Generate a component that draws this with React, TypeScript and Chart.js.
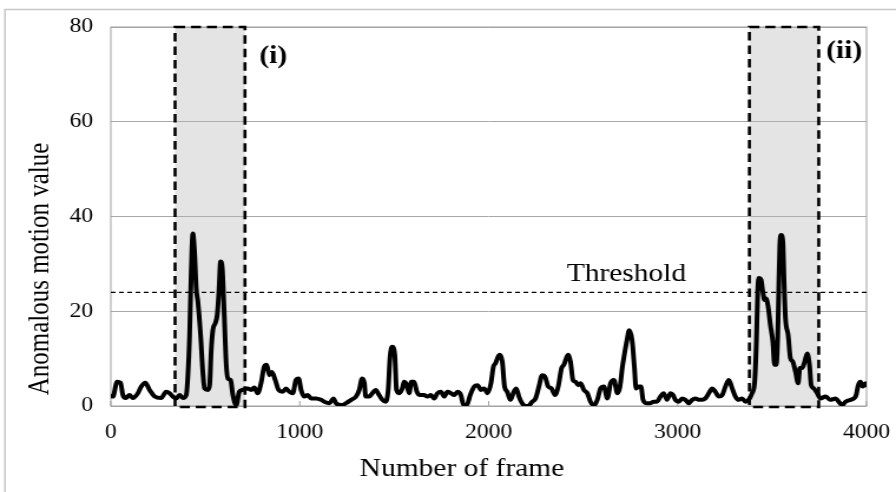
import React, { useEffect, useRef } from "react";
import { Chart, registerables } from "chart.js";

Chart.register(...registerables);

// ---------------- data ----------------
const frames = [0, 11, 33, 51, 64, 79, 99, 117, 143, 161, 182, 205, 232, 266, 293, 311, 328, 346, 364, 381, 399, 408, 417, 425, 434, 443, 452, 461, 475, 487, 496, 514, 523, 531, 540, 553, 563, 572, 581, 590, 599, 611, 620, 634, 646, 664, 680, 698, 724, 742, 759, 777, 795, 812, 825, 839, 853, 870, 888, 910, 927, 945, 963, 980, 994, 1007, 1024, 1042, 1060, 1086, 1113, 1130, 1157, 1178, 1192, 1219, 1245, 1272, 1298, 1315, 1330, 1342, 1349, 1367, 1384, 1402, 1420, 1437, 1455, 1468, 1478, 1490, 1503, 1512, 1526, 1543, 1552, 1567, 1579, 1591, 1605, 1620, 1637, 1658, 1676, 1694, 1711, 1729, 1747, 1764, 1782, 1800, 1817, 1835, 1853, 1867, 1884, 1902, 1923, 1941, 1959, 1976, 1994, 2012, 2025, 2036, 2057, 2072, 2084, 2098, 2115, 2133, 2146, 2160, 2177, 2195, 2213, 2230, 2248, 2266, 2283, 2298, 2315, 2333, 2351, 2368, 2386, 2398, 2411, 2421, 2433, 2446, 2460, 2474, 2486, 2504, 2522, 2539, 2557, 2575, 2592, 2610, 2628, 2645, 2663, 2681, 2695, 2707, 2718, 2732, 2744, 2759, 2771, 2780, 2794, 2806, 2817, 2834, 2856, 2873, 2891, 2909, 2926, 2944, 2962, 2976, 2988, 3006, 3024, 3041, 3059, 3077, 3094, 3112, 3130, 3147, 3165, 3183, 3200, 3218, 3236, 3253, 3271, 3289, 3306, 3323, 3341, 3359, 3376, 3394, 3408, 3417, 3424, 3429, 3442, 3451, 3460, 3468, 3479, 3491, 3504, 3513, 3522, 3530, 3535, 3541, 3548, 3557, 3564, 3571, 3585, 3597, 3609, 3624, 3638, 3647, 3659, 3673, 3686, 3698, 3707, 3721, 3739, 3756, 3783, 3809, 3836, 3853, 3871, 3889, 3915, 3933, 3945, 3956, 3968, 3980, 3995, 4000];

const motionValues = [2.1, 2.0, 5.1, 4.9, 2.3, 1.7, 2.3, 1.7, 2.7, 4.1, 4.9, 3.4, 2.0, 1.7, 3.0, 2.7, 2.0, 1.6, 2.3, 1.7, 2.3, 6.5, 15, 27.6, 36.4, 32.6, 24.8, 22, 15, 7.2, 3.7, 3.4, 4.4, 11.5, 16, 17.5, 19.2, 24.1, 30.5, 29, 20.6, 8.7, 5.8, 5.5, 2.3, 0.2, 3.0, 3.4, 3.7, 3.4, 3.9, 2.7, 4.8, 8.3, 8.7, 6.5, 7.2, 5.5, 3.4, 3.0, 3.7, 3.0, 2.7, 5.5, 5.8, 3.4, 2.0, 2.3, 1.6, 1.6, 1.3, 0.9, 0.6, 1.6, 0.6, 0.2, 0.6, 1.3, 2.0, 3.4, 5.8, 4.8, 2.0, 2.0, 2.7, 3.4, 2.3, 1.3, 0.9, 3.4, 10.4, 12.5, 10.8, 3.4, 2.7, 3.7, 5.1, 4.4, 2.7, 5.1, 5.1, 3.0, 2.3, 2.3, 2.0, 2.3, 1.6, 2.7, 3.0, 2.0, 3.0, 2.7, 2.3, 3.0, 2.3, 0.2, 0.2, 2.3, 4.1, 4.4, 3.4, 3.7, 2.7, 4.8, 8.3, 9.0, 10.8, 9.4, 4.1, 3.0, 1.3, 3.0, 3.7, 2.0, 0.6, 0, 0.1, 0.9, 1.6, 4.1, 6.5, 6.2, 4.1, 3.7, 2.3, 4.1, 8.0, 8.7, 10.1, 10.8, 9.4, 5.5, 5.1, 4.4, 4.8, 3.4, 2.7, 0.9, 0.1, 1.3, 3.7, 4.1, 1.6, 4.8, 5.5, 2.7, 4.1, 8.0, 10.8, 13.9, 16.0, 13.9, 8.3, 3.7, 4.1, 4.1, 1.3, 0.6, 0.6, 0.9, 0.9, 2.0, 2.7, 1.3, 2.7, 2.3, 1.3, 0.9, 1.6, 1.3, 0.6, 1.3, 1.6, 1.3, 1.3, 1.6, 2.7, 3.7, 3.0, 2.0, 2.3, 4.1, 5.5, 3.7, 2.0, 1.3, 1.6, 0.9, 1.3, 2.7, 5.1, 13.6, 24.1, 27.0, 26.6, 24.1, 22.4, 22.7, 21, 17.1, 13.6, 8.7, 8.7, 15, 24.1, 34, 36.1, 34.7, 25.5, 18.5, 15, 10.1, 9.4, 7.2, 4.8, 8.0, 8.0, 9.4, 11.1, 8.7, 4.4, 3.7, 2.7, 1.6, 2.0, 1.3, 1.6, 0.9, 0.2, 0.9, 1.3, 1.6, 2.3, 4.4, 5.1, 4.1, 4.8, 4.4];

const xTicks = [0, 1000, 2000, 3000, 4000];
const yTicks = [0, 20, 40, 60, 80];
const thresholdValue = 24;

const regionNames = ["(i)", "(ii)"];
const regionStart = [340, 3380];
const regionEnd = [710, 3747];
const regionLabelFrame = [786, 3786];
const regionLabelValue = [72.4, 73.4];

const thresholdLabel = "Threshold";
const thresholdLabelFrame = 2729;
const thresholdLabelValue = 26.3;

const xTitle = "Number of frame";
const yTitle = "Anomalous motion value";

// ---------------- layout ----------------
const CSS_W = 896;
const CSS_H = 492;
const W = 760; // internal canvas width (stretched horizontally to CSS_W)
const H = 492;
const SX = CSS_W / W;
const FONT = "'Liberation Serif', 'Times New Roman', serif";

export default function App() {
  const ref = useRef<HTMLCanvasElement>(null);

  useEffect(() => {
    const canvas = ref.current;
    if (!canvas) return;

    const decor = {
      id: "decor",
      beforeDraw(chart: any) {
        const ctx = chart.ctx;
        ctx.save();
        ctx.fillStyle = "#ffffff";
        ctx.fillRect(0, 0, chart.width, chart.height);
        ctx.strokeStyle = "#c8c8c8";
        ctx.lineWidth = 1.5;
        ctx.beginPath();
        ctx.moveTo(5 / SX, H);
        ctx.lineTo(5 / SX, 9.5);
        ctx.lineTo(W, 9.5);
        ctx.stroke();
        ctx.restore();
      },
      beforeDatasetsDraw(chart: any) {
        const ctx = chart.ctx;
        const xs = chart.scales.x;
        const ys = chart.scales.y;
        const a = chart.chartArea;
        ctx.save();
        ctx.fillStyle = "rgba(185,185,185,0.38)";
        for (let i = 0; i < regionStart.length; i++) {
          const x0 = xs.getPixelForValue(regionStart[i]);
          const x1 = xs.getPixelForValue(regionEnd[i]);
          const y0 = ys.getPixelForValue(80);
          const y1 = ys.getPixelForValue(0);
          ctx.fillRect(x0, y0, x1 - x0, y1 - y0);
        }
        ctx.strokeStyle = "#a0a0a0";
        ctx.lineWidth = 1;
        ctx.strokeRect(a.left, a.top, a.right - a.left, a.bottom - a.top);
        ctx.beginPath();
        for (const v of xTicks) {
          const px = xs.getPixelForValue(v);
          ctx.moveTo(px, a.bottom);
          ctx.lineTo(px, a.bottom - 5);
        }
        ctx.stroke();
        ctx.restore();
      },
      afterDatasetsDraw(chart: any) {
        const ctx = chart.ctx;
        const xs = chart.scales.x;
        const ys = chart.scales.y;
        ctx.save();
        ctx.strokeStyle = "#000";
        ctx.lineWidth = 2.6;
        ctx.setLineDash([8.5, 5]);
        for (let i = 0; i < regionStart.length; i++) {
          const x0 = xs.getPixelForValue(regionStart[i]);
          const x1 = xs.getPixelForValue(regionEnd[i]);
          const y0 = ys.getPixelForValue(80);
          const y1 = ys.getPixelForValue(0) + 1;
          ctx.strokeRect(x0, y0, x1 - x0, y1 - y0);
        }
        ctx.setLineDash([]);
        ctx.fillStyle = "#000";
        ctx.font = `bold 25px ${FONT}`;
        ctx.textAlign = "left";
        ctx.textBaseline = "alphabetic";
        for (let i = 0; i < regionNames.length; i++) {
          ctx.fillText(
            regionNames[i],
            xs.getPixelForValue(regionLabelFrame[i]),
            ys.getPixelForValue(regionLabelValue[i])
          );
        }
        ctx.font = `25px ${FONT}`;
        ctx.textAlign = "center";
        ctx.fillText(
          thresholdLabel,
          xs.getPixelForValue(thresholdLabelFrame),
          ys.getPixelForValue(thresholdLabelValue)
        );
        ctx.restore();
      },
      afterDraw(chart: any) {
        const ctx = chart.ctx;
        ctx.save();
        ctx.fillStyle = "#000";
        ctx.font = `25px ${FONT}`;
        ctx.textAlign = "center";
        ctx.textBaseline = "alphabetic";
        ctx.fillText(xTitle, 462 / SX, 476);
        ctx.translate(48 / SX, 269);
        ctx.rotate(-Math.PI / 2);
        ctx.fillText(yTitle, 0, 0);
        ctx.restore();
      },
    };

    const chart = new Chart(canvas, {
      type: "line",
      data: {
        datasets: [
          {
            label: "Anomalous motion value",
            data: frames.map((f, i) => ({ x: f, y: motionValues[i] })),
            borderColor: "#000",
            borderWidth: 4,
            pointRadius: 0,
            tension: 0.3,
            cubicInterpolationMode: "monotone",
            borderJoinStyle: "round",
            borderCapStyle: "round",
          },
          {
            label: "Threshold",
            data: [
              { x: xTicks[0], y: thresholdValue },
              { x: xTicks[xTicks.length - 1], y: thresholdValue },
            ],
            borderColor: "#000",
            borderWidth: 1.3,
            borderDash: [4, 3],
            pointRadius: 0,
          },
        ],
      },
      options: {
        responsive: false,
        devicePixelRatio: 1,
        animation: false,
        layout: {
          autoPadding: false,
          padding: { left: 0, right: 25, top: 27, bottom: 0 },
        },
        plugins: {
          legend: { display: false },
          tooltip: { enabled: false },
        },
        scales: {
          x: {
            type: "linear",
            min: xTicks[0],
            max: xTicks[xTicks.length - 1],
            afterBuildTicks: (s: any) => {
              s.ticks = xTicks.map((v) => ({ value: v }));
            },
            afterFit: (s: any) => {
              s.height = 86;
              s.paddingLeft = 0;
              s.paddingRight = 0;
            },
            grid: { display: false, drawTicks: false },
            border: { display: false },
            ticks: {
              color: "#000",
              padding: 15,
              font: { family: FONT, size: 20 },
              maxRotation: 0,
              autoSkip: false,
              callback: (v: any) => String(v),
            },
          },
          y: {
            type: "linear",
            min: yTicks[0],
            max: yTicks[yTicks.length - 1],
            afterBuildTicks: (s: any) => {
              s.ticks = yTicks.map((v) => ({ value: v }));
            },
            afterFit: (s: any) => {
              s.width = 94;
              s.paddingTop = 0;
              s.paddingBottom = 0;
            },
            grid: { color: "#a8a8a8", lineWidth: 1, drawTicks: false },
            border: { display: false },
            ticks: {
              color: "#000",
              padding: 15,
              font: { family: FONT, size: 20 },
              callback: (v: any) => String(v),
            },
          },
        },
      },
      plugins: [decor],
    } as any);

    return () => chart.destroy();
  }, []);

  return (
    <div
      style={{
        position: "absolute",
        left: 0,
        top: 0,
        width: CSS_W,
        height: CSS_H,
        background: "#fff",
      }}
    >
      <canvas
        ref={ref}
        width={W}
        height={H}
        style={{ width: `${CSS_W}px`, height: `${CSS_H}px`, display: "block" }}
      />
    </div>
  );
}
